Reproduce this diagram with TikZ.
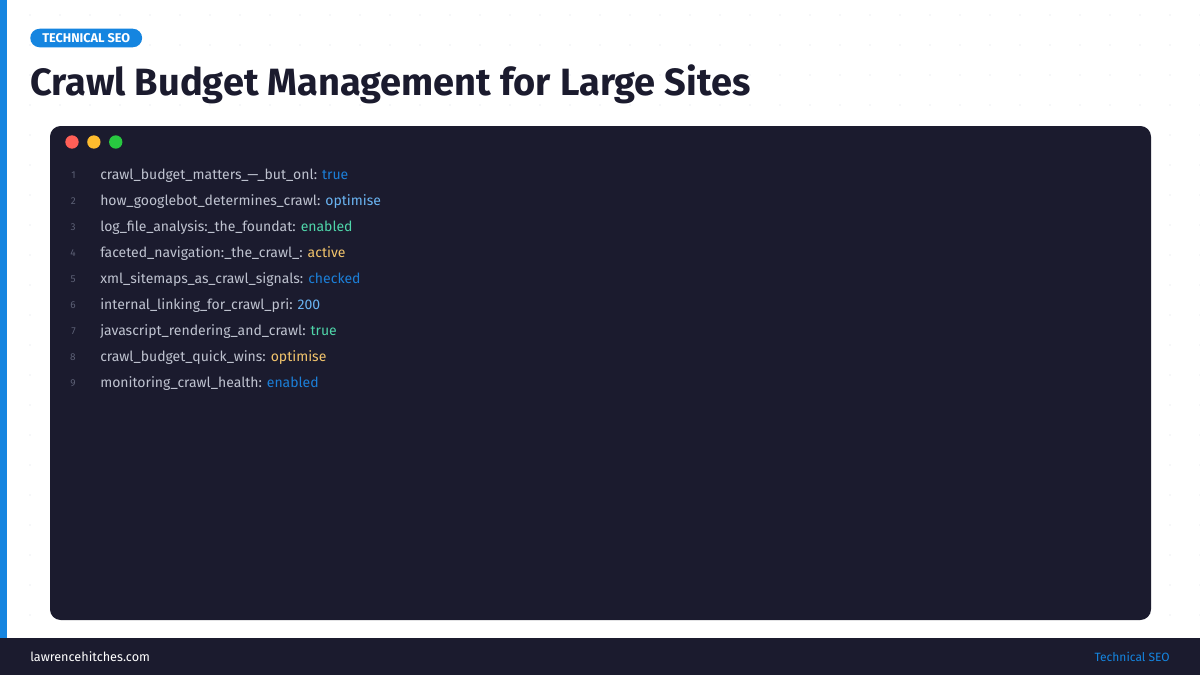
\documentclass[tikz,border=0pt]{standalone}
\usepackage{fontspec}
\setmainfont{Fira Sans}
\usetikzlibrary{positioning}
\definecolor{navy}{HTML}{1B1B2E}
\definecolor{accent}{HTML}{1585E0}
\definecolor{keygrey}{HTML}{BFC3D0}
\definecolor{numgrey}{HTML}{5C6075}
\definecolor{valblue}{HTML}{1C7FD8}
\definecolor{valsky}{HTML}{6AB4F2}
\definecolor{valgreen}{HTML}{4FD6AA}
\definecolor{valgold}{HTML}{F2C46C}
\definecolor{dotgrey}{HTML}{EEF0F4}
\definecolor{lightred}{HTML}{FF5F57}
\definecolor{lightamber}{HTML}{FEBC2E}
\definecolor{lightgreen}{HTML}{28C840}
\tikzset{
  keytext/.style={anchor=west, text=keygrey, font=\fontsize{10.5}{12}\selectfont, inner sep=0pt},
  numtext/.style={anchor=east, text=numgrey, font=\fontsize{7.5}{9}\selectfont, inner sep=0pt},
  light/.style={circle, minimum size=10pt, inner sep=0pt},
}
\begin{document}
\begin{tikzpicture}[x=0.75pt, y=-0.75pt]
  \useasboundingbox (0,0) rectangle (1200,675);
  \fill[white] (0,0) rectangle (1200,675);
  % faint dot grid
  \foreach \gx in {30,60,...,1200}
    \foreach \gy in {15,45,...,630}
      \fill[dotgrey] (\gx,\gy) circle (0.9);
  \fill[accent] (0,0) rectangle (7,638);
  \fill[navy] (0,638) rectangle (1200,675);

  \node[fill=accent, rounded corners=7pt, text=white, inner xsep=9pt, inner ysep=3.5pt,
        font=\fontsize{9.5}{10}\selectfont\bfseries, anchor=west] (tag) at (30,38) {TECHNICAL SEO};
  \node[anchor=west, inner sep=0pt, text=navy, font=\fontsize{28.5}{30}\selectfont\bfseries] (title) at (30,84) {Crawl Budget Management for Large Sites};

  \fill[navy, rounded corners=8pt] (50,126) rectangle (1151,620);
  \node[light, fill=lightred] (red) at (72,142) {};
  \node[light, fill=lightamber, right=6pt of red] (amber) {};
  \node[light, fill=lightgreen, right=6pt of amber] (green) {};

  \foreach \i/\k/\v/\c in {
      1/crawl\_budget\_matters\_—\_but\_onl/true/valblue,
      2/how\_googlebot\_determines\_crawl/optimise/valsky,
      3/log\_file\_analysis:\_the\_foundat/enabled/valgreen,
      4/faceted\_navigation:\_the\_crawl\_/active/valgold,
      5/xml\_sitemaps\_as\_crawl\_signals/checked/valblue,
      6/internal\_linking\_for\_crawl\_pri/200/valsky,
      7/javascript\_rendering\_and\_crawl/true/valgreen,
      8/crawl\_budget\_quick\_wins/optimise/valgold,
      9/monitoring\_crawl\_health/enabled/valblue} {
    \node[numtext] (num\i) at (76,149+26*\i) {\i};
    \node[keytext] (key\i) at (100,150+26*\i) {\k: \textcolor{\c}{\v}};
  }

  \node[anchor=west, inner sep=0pt, text=white, font=\fontsize{9.5}{11}\selectfont] (site) at (30,657) {lawrencehitches.com};
  \node[anchor=east, inner sep=0pt, text=accent, font=\fontsize{9}{11}\selectfont] (foottag) at (1170,657) {Technical SEO};
\end{tikzpicture}
\end{document}
